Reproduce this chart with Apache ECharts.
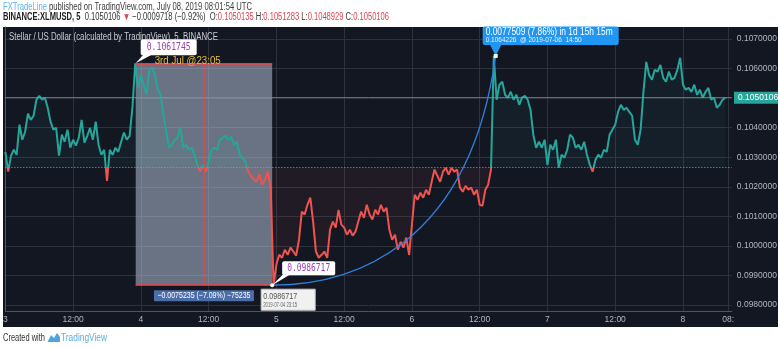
<!DOCTYPE html>
<html><head><meta charset="utf-8">
<script src="https://cdn.jsdelivr.net/npm/echarts@6/dist/echarts.min.js"></script>
<style>html,body{margin:0;padding:0;background:#fff;overflow:hidden}#c{width:780px;height:348px}</style>
</head><body><div id="c"></div>
<script>
// ---- data (BINANCE:XLMUSD, closes sampled every 30 min from 2019-07-03 00:00 UTC) ----
const stepMinutes = 30;
const closes = [
0.10318,0.10251,0.10305,0.10325,0.10308,0.10410,0.10359,0.10386,0.10447,0.10426,
0.10440,0.10494,0.10507,0.10494,0.10501,0.10467,0.10420,0.10393,0.10399,0.10305,
0.10376,0.10352,0.10393,0.10332,0.10359,0.10339,0.10366,0.10426,0.10349,0.10372,
0.10399,0.10359,0.10420,0.10342,0.10308,0.10325,0.10220,0.10325,0.10308,0.10332,
0.10318,0.10352,0.10383,0.10359,0.10372,0.10467,0.1061745,0.10534,0.10578,0.10545,
0.10511,0.10595,0.10602,0.10578,0.10528,0.10511,0.10443,0.10386,0.10332,0.10342,
0.10359,0.10366,0.10403,0.10332,0.10342,0.10325,0.10332,0.10308,0.10274,0.10251,
0.10274,0.10251,0.10284,0.10325,0.10332,0.10325,0.10359,0.10366,0.10372,0.10359,
0.10369,0.10342,0.10352,0.10308,0.10298,0.10284,0.10251,0.10237,0.10224,0.10217,
0.10241,0.10207,0.10224,0.10251,0.10190,0.0986717,0.09937,0.09970,0.09960,0.09987,
0.09970,0.09994,0.09981,0.09967,0.10021,0.10116,0.10106,0.10139,0.10163,0.10082,
0.09981,0.09960,0.09970,0.09981,0.09960,0.10055,0.10082,0.10062,0.10122,0.10072,
0.10062,0.10038,0.10055,0.10035,0.10048,0.10082,0.10116,0.10095,0.10139,0.10106,
0.10089,0.10122,0.10106,0.10139,0.10116,0.10129,0.10055,0.10021,0.10038,0.09987,
0.10014,0.09994,0.10028,0.09970,0.10072,0.10173,0.10156,0.10180,0.10163,0.10190,
0.10173,0.10217,0.10258,0.10237,0.10217,0.10251,0.10264,0.10241,0.10264,0.10251,
0.10258,0.10197,0.10183,0.10203,0.10190,0.10197,0.10173,0.10190,0.10139,0.10136,
0.10190,0.10207,0.10258,0.1064226,0.10494,0.10545,0.10555,0.10511,0.10501,0.10521,
0.10494,0.10511,0.10477,0.10501,0.10507,0.10494,0.10460,0.10376,0.10332,0.10352,
0.10332,0.10359,0.10274,0.10342,0.10325,0.10359,0.10264,0.10308,0.10298,0.10325,
0.10376,0.10366,0.10332,0.10342,0.10325,0.10352,0.10308,0.10274,0.10251,0.10291,
0.10308,0.10298,0.10325,0.10318,0.10376,0.10393,0.10410,0.10453,0.10477,0.10460,
0.10467,0.10453,0.10440,0.10359,0.10342,0.10393,0.10521,0.10622,0.10578,0.10562,
0.10595,0.10589,0.10612,0.10568,0.10555,0.10589,0.10562,0.10568,0.10595,0.10636,
0.10545,0.10528,0.10534,0.10521,0.10545,0.10511,0.10528,0.10501,0.10521,0.10534,
0.10494,0.10501,0.10467,0.10477,0.10494,0.1050106
];
// hours since 2019-07-03 00:00 UTC
const timeTicks = [0,12,24,36,48,60,72,84,96,108,120,128];
const timeTickLabels = ['3','12:00','4','12:00','5','12:00','6','12:00','7','12:00','8','08:'];
const priceTicks = [0.098,0.099,0.100,0.101,0.102,0.103,0.104,0.105,0.106,0.107];
const priceMin = 0.0978, priceMax = 0.1074;
const baseline = 0.10265;
const lastPrice = 0.1050106;
const peakPoint = [23 + 5/60, 0.1061745];    // 3rd Jul 23:05
const lowPoint  = [47.25, 0.0986717];        // 2019-07-04 23:15
const highPoint = [86 + 50/60, 0.1064226];   // 2019-07-06 14:50

// ---- chart ----
const UP = '#26a69a', DOWN = '#ef5350';
const SANS = '"Liberation Sans",Arial,sans-serif';
const MONO = '"DejaVu Sans Mono",monospace';
const chart = echarts.init(document.getElementById('c'), null, {renderer: 'canvas'});
const seriesData = closes.map((v, i) => [i * stepMinutes / 60, v]);
const midH = (peakPoint[0] + lowPoint[0]) / 2;

chart.setOption({
  animation: false,
  backgroundColor: '#ffffff',
  grid: {left: 4, right: 47, top: 27, bottom: 37},
  xAxis: {
    type: 'value', min: 0, max: 128.65,
    axisLine: {show: true, lineStyle: {color: '#50545f'}},
    axisTick: {show: false, customValues: timeTicks},
    splitLine: {show: true, lineStyle: {color: '#2e323d', width: 1}},
    axisLabel: {customValues: timeTicks, color: '#b2b5be', fontSize: 8.5, margin: 4, fontFamily: SANS,
      formatter: v => timeTickLabels[timeTicks.indexOf(v)] || ''}
  },
  yAxis: {
    type: 'value', position: 'right', min: priceMin, max: priceMax, scale: true,
    axisLine: {show: true, lineStyle: {color: '#50545f'}},
    axisTick: {show: false, customValues: priceTicks},
    splitLine: {show: true, lineStyle: {color: '#2e323d', width: 1}},
    axisLabel: {customValues: priceTicks, color: '#b2b5be', fontSize: 8.5, margin: 5, fontFamily: SANS,
      formatter: v => v.toFixed(7)}
  },
  visualMap: {show: false, type: 'piecewise', dimension: 1, seriesIndex: 0,
    pieces: [{gt: 0, lt: baseline, color: DOWN}, {gte: baseline, lte: 1, color: UP}]},
  series: [
    {type: 'line', data: seriesData, showSymbol: false, z: 2,
      lineStyle: {width: 2}, areaStyle: {origin: baseline, opacity: 0.06},
      markLine: {silent: true, symbol: 'none', label: {show: false}, animation: false,
        data: [
          [{coord: [0, baseline], lineStyle: {color: '#9a9da6', width: 1, type: [1, 2]}}, {coord: [128.65, baseline]}],
          [{coord: [0, lastPrice], lineStyle: {color: 'rgba(110,160,156,0.7)', width: 1, type: 'solid'}}, {coord: [128.65, lastPrice]}]
        ]}
    },
    {type: 'line', data: [], z: 5, silent: true,
      markArea: {silent: true, itemStyle: {color: 'rgba(185,200,220,0.52)'},
        data: [[{coord: peakPoint}, {coord: lowPoint}]]}
    },
    {type: 'line', data: [], z: 6, silent: true,
      markLine: {silent: true, symbol: 'none', label: {show: false}, animation: false,
        data: [
          [{coord: [peakPoint[0], peakPoint[1]], lineStyle: {color: '#e8444a', width: 1.5, type: 'solid'}},
           {coord: [lowPoint[0], peakPoint[1]]}],
          [{coord: [peakPoint[0], lowPoint[1]], lineStyle: {color: '#e8444a', width: 1.5, type: 'solid'}},
           {coord: [lowPoint[0], lowPoint[1]]}],
          [{coord: [midH, peakPoint[1]], lineStyle: {color: 'rgba(224,74,79,0.75)', width: 1, type: 'solid'}},
           {coord: [midH, lowPoint[1]]}]
        ]}
    }
  ]
});

function px(pt) { return chart.convertToPixel({gridIndex: 0}, pt); }
const P0 = px(lowPoint), P3 = px(highPoint), PK = px(peakPoint), LP = px([0, lastPrice]);
const dx = P3[0] - P0[0], dy = P3[1] - P0[1];

const mctx = document.createElement('canvas').getContext('2d');
function measure(text, font) { mctx.font = font; return mctx.measureText(text).width; }
// text squeezed horizontally to the width it has in the screenshot
function FT(text, x, y, font, fill, targetW, align) {
  return {type: 'text', x: x, y: y, z: 100, scaleX: targetW / measure(text, font),
    style: {text: text, font: font, fill: fill, align: align || 'left', verticalAlign: 'middle'}};
}
function RT(segs, x, y, targetW) {
  let w = 0, txt = '', rich = {};
  segs.forEach((s, i) => { w += measure(s[0], s[1]); txt += '{s' + i + '|' + s[0] + '}'; rich['s' + i] = {font: s[1], fill: s[2]}; });
  return {type: 'text', x: x, y: y, z: 100, scaleX: targetW / w,
    style: {text: txt, rich: rich, verticalAlign: 'middle', align: 'left'}};
}
const F = (sz, w) => (w ? w + ' ' : '') + sz + 'px ' + SANS;
const RED = '#e0424a', DARK = '#333333';

const graphics = [
  // dark panel behind the chart
  {type: 'rect', z: -100, shape: {x: 3, y: 27, width: 775, height: 300}, style: {fill: '#131722'}},
  // header
  RT([['FXTradeLine', F(10), '#5fb2e4'], [' published on TradingView.com, July 08, 2019 08:01:54 UTC', F(10), '#3c3c3c']], 3, 7, 249),
  RT([['BINANCE:XLMUSD, 5', F(10, 'bold'), '#1e1e1e'], ['  0.1050106 ', F(10), DARK], ['▼', F(10), RED],
      [' −0.0009718 (−0.92%)  O:', F(10), DARK], ['0.1050135', F(10), RED], [' H:', F(10), DARK], ['0.1051283', F(10), RED],
      [' L:', F(10), DARK], ['0.1048929', F(10), RED], [' C:', F(10), DARK], ['0.1050106', F(10), RED]], 3, 17, 386),
  // footer
  FT('Created with', 3, 338, F(10), '#333333', 42),
  {type: 'polygon', z: 100, shape: {points: [[48, 341], [51, 335], [54, 338], [57, 333], [60, 337], [60, 342], [48, 342]]}, style: {fill: '#4ea4dc'}},
  FT('TradingView', 61, 338, F(10), '#56aee2', 46),
  // chart title
  FT('Stellar / US Dollar (calculated by TradingView), 5, BINANCE', 9, 37, F(10), '#c8cbd2', 209),
  // last price label on the scale
  {type: 'rect', z: 100, shape: {x: 734, y: LP[1] - 6, width: 44, height: 12}, style: {fill: UP}},
  {type: 'text', x: 738, y: LP[1], z: 101, style: {text: lastPrice.toFixed(7), font: F(8.5), fill: '#ffffff', verticalAlign: 'middle'}},
  // blue curve from low to high
  {type: 'bezierCurve', z: 50, shape: {x1: P0[0], y1: P0[1], x2: P3[0], y2: P3[1],
    cpx1: P0[0] + 0.35 * dx, cpy1: P0[1], cpx2: P0[0] + 0.88 * dx, cpy2: P0[1] + 0.16 * dy},
    style: {stroke: '#2f80e0', lineWidth: 1.3, fill: null}},
  // peak callout
  {type: 'polygon', z: 90, shape: {points: [[PK[0], PK[1]], [PK[0] + 8, PK[1] - 9], [PK[0] + 17, PK[1] - 9]]}, style: {fill: '#ffffff'}},
  {type: 'rect', z: 90, shape: {x: PK[0] + 5, y: PK[1] - 24, width: 56, height: 16, r: 2}, style: {fill: '#ffffff'}},
  FT(peakPoint[1].toFixed(7), PK[0] + 33, PK[1] - 16, '10px ' + MONO, '#9b3fb5', 44, 'center'),
  FT('3rd Jul @23:05', PK[0] + 19, PK[1] - 2.5, F(10), '#e6bc3c', 66),
  // low callout
  {type: 'polygon', z: 90, shape: {points: [[P0[0], P0[1]], [P0[0] + 12, P0[1] - 12], [P0[0] + 20, P0[1] - 12]]}, style: {fill: '#ffffff'}},
  {type: 'rect', z: 90, shape: {x: P0[0] + 10, y: P0[1] - 24, width: 53, height: 14, r: 2}, style: {fill: '#ffffff'}},
  FT(lowPoint[1].toFixed(7), P0[0] + 36.5, P0[1] - 17, '10px ' + MONO, '#9b3fb5', 43, 'center'),
  {type: 'circle', z: 95, shape: {cx: P0[0], cy: P0[1], r: 2}, style: {fill: '#ffffff'}},
  // range label under the box
  {type: 'rect', z: 90, shape: {x: (PK[0] + P0[0]) / 2 - 50, y: P0[1] + 5, width: 100, height: 11, r: 1}, style: {fill: '#4b6ea8'}},
  FT('−0.0075235 (−7.09%) −75235', (PK[0] + P0[0]) / 2, P0[1] + 10.5, F(9), '#ffffff', 93, 'center'),
  // crosshair tooltip at the low
  {type: 'rect', z: 92, shape: {x: P0[0] - 11, y: P0[1] + 4, width: 54, height: 21}, style: {fill: '#f1f1f1', stroke: '#c9c9c9', lineWidth: 1}},
  FT(lowPoint[1].toFixed(7), P0[0] - 9, P0[1] + 11, F(9), '#555555', 34),
  FT('2019-07-04 23:15', P0[0] - 9, P0[1] + 20, F(7), '#666666', 34),
  // high callout (blue)
  {type: 'polygon', z: 90, shape: {points: [[P3[0], P3[1]], [P3[0] - 6, P3[1] - 12], [P3[0] + 6, P3[1] - 12]]}, style: {fill: '#2196f3'}},
  {type: 'rect', z: 90, shape: {x: P3[0] - 13, y: P3[1] - 29.5, width: 136, height: 18.5, r: 2}, style: {fill: '#2196f3'}},
  FT('0.0077509 (7.86%) in 1d 15h 15m', P3[0] - 10, P3[1] - 23.5, F(10), '#ffffff', 127),
  FT('0.1064226  @ 2019-07-06  14:50', P3[0] - 10, P3[1] - 15.5, F(7.5), '#e8f2ff', 96),
  {type: 'rect', z: 95, shape: {x: P3[0] - 2, y: P3[1] - 2, width: 4, height: 4}, style: {fill: '#ffffff'}}
];
chart.setOption({graphic: graphics});
</script>
</body></html>
